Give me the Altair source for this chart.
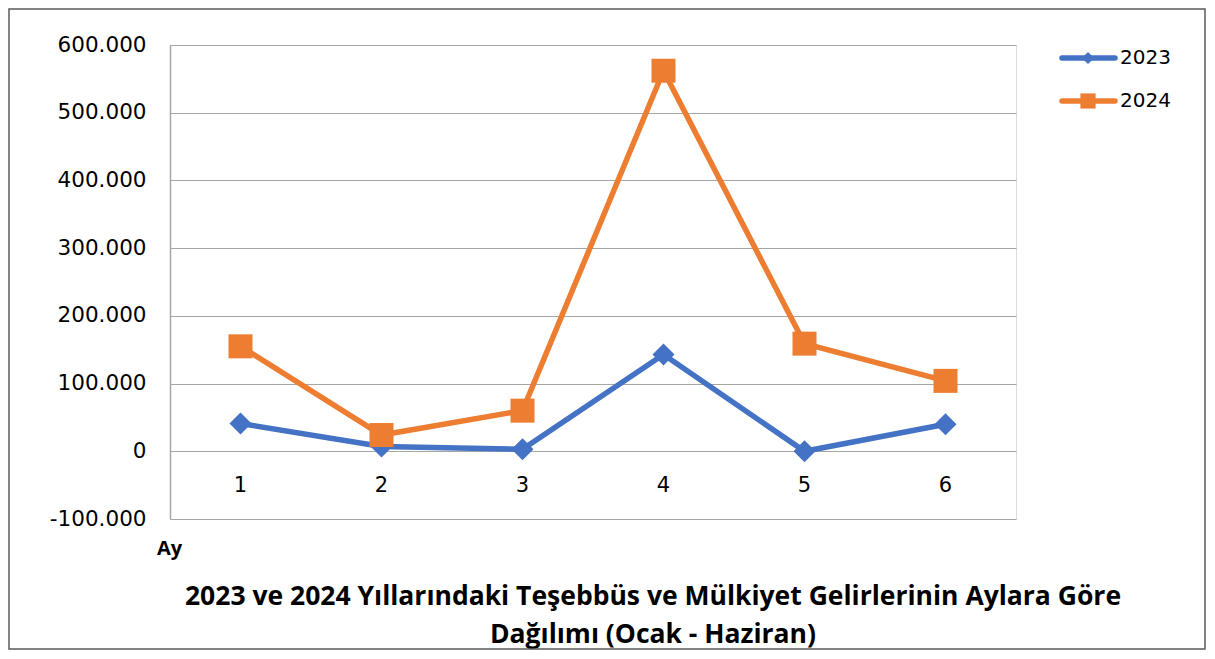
import altair as alt
import pandas as pd

months = [1, 2, 3, 4, 5, 6]
series_names = ["2023", "2024"]
values_2023 = [41000, 7000, 3000, 143000, 0, 40000]
values_2024 = [155000, 24000, 60000, 562000, 159000, 104000]
y_ticks = [-100000, 0, 100000, 200000, 300000, 400000, 500000, 600000]
title_lines = ["2023 ve 2024 Yıllarındaki Teşebbüs ve Mülkiyet Gelirlerinin Aylara Göre",
               "Dağılımı (Ocak - Haziran)"]
x_title = "Ay"

colors = {"2023": "#4472C4", "2024": "#ED7D31"}
shapes = {"2023": "diamond", "2024": "square"}
msizes = {"2023": 484, "2024": 576}
leg_sizes = {"2023": 150, "2024": 230}

rows = []
for m, a, b in zip(months, values_2023, values_2024):
    rows.append({"month": m, "series": "2023", "value": a})
    rows.append({"month": m, "series": "2024", "value": b})
df = pd.DataFrame(rows)

FONT = "DejaVu Sans"
W, H = 846, 474

x_enc = alt.X("month:O", axis=None, scale=alt.Scale(paddingOuter=0.5))
y_enc = alt.Y("value:Q",
              scale=alt.Scale(domain=[-100000, 600000], nice=False, zero=False),
              axis=alt.Axis(values=y_ticks, title=None, ticks=False, domain=True,
                            domainColor="#A6A6A6", domainWidth=1.5,
                            grid=True, gridColor="#A6A6A6", gridWidth=1.2,
                            labelFont=FONT, labelFontSize=21.5, labelColor="#000000",
                            labelPadding=24,
                            labelExpr="datum.value == 0 ? '0' : (datum.value < 0 ? '-' : '') + format(abs(datum.value)/1000, 'd') + '.000'"))

base = alt.Chart(df)
layers = []
for s in series_names:
    sub = base.transform_filter(alt.datum.series == s)
    layers.append(sub.mark_line(color=colors[s], strokeWidth=5.5).encode(x=x_enc, y=y_enc))
    layers.append(sub.mark_point(shape=shapes[s], filled=True, opacity=1, color=colors[s],
                                 size=msizes[s]).encode(x=x_enc, y=y_enc))

# x labels sitting on the zero line
xlab_df = pd.DataFrame({"month": months, "zero": [0] * len(months)})
xlabels = alt.Chart(xlab_df).mark_text(font=FONT, fontSize=21, dy=35, color="#000000").encode(
    x=x_enc, y=alt.Y("zero:Q", scale=alt.Scale(domain=[-100000, 600000], nice=False)),
    text=alt.Text("month:O"))
layers.append(xlabels)

one = alt.Data(values=[{}])

# legend
leg_y = {"2023": 13, "2024": 56}
for s in series_names:
    layers.append(alt.Chart(one).mark_rule(color=colors[s], strokeWidth=5.5, strokeCap="round").encode(
        x=alt.value(892), x2=alt.value(945), y=alt.value(leg_y[s])))
    layers.append(alt.Chart(one).mark_point(shape=shapes[s], filled=True, opacity=1,
                                            color=colors[s], size=leg_sizes[s]).encode(
        x=alt.value(918), y=alt.value(leg_y[s])))
    layers.append(alt.Chart(one).mark_text(text=s, font=FONT, fontSize=20, align="left",
                                           baseline="middle", color="#000000").encode(
        x=alt.value(950), y=alt.value(leg_y[s])))

# axis title "Ay"
layers.append(alt.Chart(one).mark_text(text=x_title, font="Open Sans", fontWeight="bold",
                                       fontSize=20, align="left", baseline="middle",
                                       color="#000000").encode(
    x=alt.value(-13), y=alt.value(504)))

# chart title (two lines)
for i, line in enumerate(title_lines):
    layers.append(alt.Chart(one).mark_text(text=line, font="Open Sans", fontWeight="bold",
                                           fontSize=26.5, align="center", baseline="middle",
                                           color="#000000").encode(
        x=alt.value(483), y=alt.value(552 + 38 * i)))

# outer frame
layers.append(alt.Chart(one).mark_rect(fill=None, filled=False, stroke="#595959", strokeWidth=1.5).encode(
    x=alt.value(-161), x2=alt.value(1035), y=alt.value(-36), y2=alt.value(604)))

chart = alt.layer(*layers).properties(
    width=W, height=H,
    padding={"left": 162, "top": 37, "right": 190, "bottom": 132},
    autosize=alt.AutoSizeParams(type="none"),
).configure_view(stroke=None).configure(background="white")

chart.save("out.html", embed_options={"renderer": "svg", "actions": False})
